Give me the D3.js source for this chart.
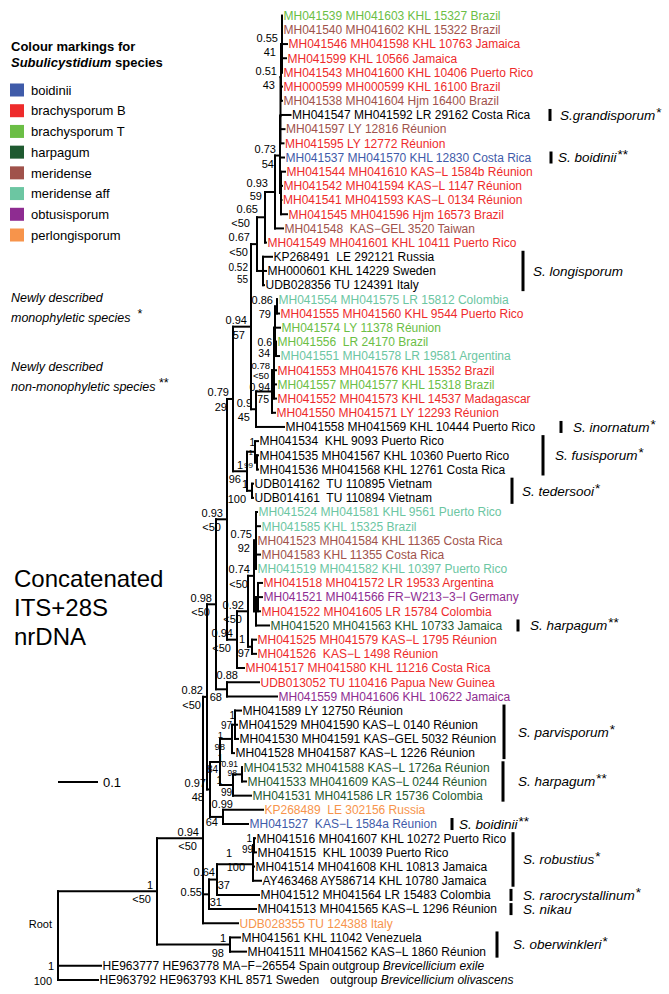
<!DOCTYPE html>
<html><head><meta charset="utf-8">
<script src="https://cdn.jsdelivr.net/npm/d3@7"></script>
<style>
body{margin:0;background:#fff;}
svg text{font-family:"Liberation Sans",Arial,Helvetica,sans-serif;}
</style></head><body>
<svg id="chart" width="669" height="994"></svg>
<script>
// ---------------- DATA ----------------
const leafLabels = [
"MH041539 MH041603 KHL 15327 Brazil","MH041540 MH041602 KHL 15322 Brazil","MH041546 MH041598 KHL 10763 Jamaica",
"MH041599 KHL 10566 Jamaica","MH041543 MH041600 KHL 10406 Puerto Rico","MH000599 MH000599 KHL 16100 Brazil",
"MH041538 MH041604 Hjm 16400 Brazil","MH041547 MH041592 LR 29162 Costa Rica","MH041597 LY 12816 Réunion",
"MH041595 LY 12772 Réunion","MH041537 MH041570 KHL 12830 Costa Rica","MH041544 MH041610 KAS−L 1584b Réunion",
"MH041542 MH041594 KAS−L 1147 Réunion","MH041541 MH041593 KAS−L 0134 Réunion","MH041545 MH041596 Hjm 16573 Brazil",
"MH041548  KAS−GEL 3520 Taiwan","MH041549 MH041601 KHL 10411 Puerto Rico","KP268491  LE 292121 Russia",
"MH000601 KHL 14229 Sweden","UDB028356 TU 124391 Italy","MH041554 MH041575 LR 15812 Colombia",
"MH041555 MH041560 KHL 9544 Puerto Rico","MH041574 LY 11378 Réunion","MH041556  LR 24170 Brazil",
"MH041551 MH041578 LR 19581 Argentina","MH041553 MH041576 KHL 15352 Brazil","MH041557 MH041577 KHL 15318 Brazil",
"MH041552 MH041573 KHL 14537 Madagascar","MH041550 MH041571 LY 12293 Réunion","MH041558 MH041569 KHL 10444 Puerto Rico",
"MH041534  KHL 9093 Puerto Rico","MH041535 MH041567 KHL 10360 Puerto Rico","MH041536 MH041568 KHL 12761 Costa Rica",
"UDB014162  TU 110895 Vietnam","UDB014161  TU 110894 Vietnam","MH041524 MH041581 KHL 9561 Puerto Rico",
"MH041585 KHL 15325 Brazil","MH041523 MH041584 KHL 11365 Costa Rica","MH041583 KHL 11355 Costa Rica",
"MH041519 MH041582 KHL 10397 Puerto Rico","MH041518 MH041572 LR 19533 Argentina","MH041521 MH041566 FR−W213−3−I Germany",
"MH041522 MH041605 LR 15784 Colombia","MH041520 MH041563 KHL 10733 Jamaica","MH041525 MH041579 KAS−L 1795 Réunion",
"MH041526  KAS−L 1498 Réunion","MH041517 MH041580 KHL 11216 Costa Rica","UDB013052 TU 110416 Papua New Guinea",
"MH041559 MH041606 KHL 10622 Jamaica","MH041589 LY 12750 Réunion","MH041529 MH041590 KAS−L 0140 Réunion",
"MH041530 MH041591 KAS−GEL 5032 Réunion","MH041528 MH041587 KAS−L 1226 Réunion","MH041532 MH041588 KAS−L 1726a Réunion",
"MH041533 MH041609 KAS−L 0244 Réunion","MH041531 MH041586 LR 15736 Colombia","KP268489  LE 302156 Russia",
"MH041527  KAS−L 1584a Réunion","MH041516 MH041607 KHL 10272 Puerto Rico","MH041515  KHL 10039 Puerto Rico",
"MH041514 MH041608 KHL 10813 Jamaica","AY463468 AY586714 KHL 10780 Jamaica","MH041512 MH041564 LR 15483 Colombia",
"MH041513 MH041565 KAS−L 1296 Réunion","UDB028355 TU 124388 Italy","MH041561 KHL 11042 Venezuela",
"MH041511 MH041562 KAS−L 1860 Réunion","HE963777 HE963778 MA−F−26554 Spain","HE963792 HE963793 KHL 8571 Sweden"
];
const leafGroups = [
"brachysporum T","meridense","brachysporum B","brachysporum B","brachysporum B","brachysporum B","meridense","","meridense",
"brachysporum B","boidinii","brachysporum B","brachysporum B","brachysporum B","brachysporum B","meridense","brachysporum B",
"","","","meridense aff","brachysporum B","brachysporum T","brachysporum T","meridense aff","brachysporum B","brachysporum T",
"brachysporum B","brachysporum B","","","","","","","meridense aff","meridense aff","meridense","meridense","meridense aff",
"brachysporum B","obtusisporum","brachysporum B","harpagum","brachysporum B","brachysporum B","brachysporum B","brachysporum B",
"obtusisporum","","","","","harpagum","harpagum","harpagum","perlongisporum","boidinii","","","","","","","perlongisporum",
"","","",""
];
const groupNames = ["boidinii","brachysporum B","brachysporum T","harpagum","meridense","meridense aff","obtusisporum","perlongisporum"];
const groupColors = ["#3F5BA9","#EE2B2B","#6BBE45","#1F5A30","#A0524B","#6CC6A2","#8E2C91","#F7944B"];

// Tree: leaves L1..L69, internal labels = posterior/bootstrap, branch lengths in substitutions/site
const treeNewick = `(
 (
  (
   (
    (
     (
      (
       (
        (
         (
          (
           ((((L1:0,L2:0,L3:0.0125,L4:0.01,L5:0)0.55/41:0.0025,L6:0.0025,L7:0.0025)0.51/43:0.00125,L8:0.025,L9:0.01,L10:0.0075):0.00125,
            L11:0.01,
            (L12:0.01,L13:0.0025,L14:0.00125,L15:0.015):0.0025)0.73/54:0.0125,
           L16:0.02)0.93/59:0.025,
          L17:0.0025)0.65/<50:0.02,
         (L18:0.0225,L19:0.0075,L20:0.0025)0.52/55:0.015)0.67/<50:0.015,
        (((((L21:0,L22:0.005)0.86/79:0.005,L23:0.0125,(L24:0,L25:0.0075)0.6/34:0.0025):0.0025,
            L26:0.005,L27:0.005,L28:0.005)0.78/<50:0.005,
           L29:0.0075)0.94/75:0.04,
         L30:0.07)0.9/45:0.0125)0.94/57:0.045,
       ((L31:0.0075,(L32:0.0025,L33:0.0025)1/99:0.005)1/:0.02,
        (L34:0.0025,L35:0.0025)1/100:0.0125)1/96:0.035)0.79/29:0.015,
      ((((L36:0.0025,L37:0.01,L38:0,L39:0.01,L40:0)0.75/92:0.005,
         ((L41:0.01,L42:0.01,L43:0.005):0.005,L44:0.0325):0.005)0.74/<50:0.015,
        (L45:0.01,L46:0.01)1/97:0.01)0.92/<50:0.0275,
       L47:0.0175)0.94/<50:0.025)0.93/<50:0.0275,
     (L48:0.08,L49:0.125)0.88/68:0.0275)0.98/<50:0.0225,
    ((((L50:0.015,L51:0.005,L52:0.0075)1/97:0.0075,L53:0.005)1/98:0.03,
      ((L54:0,L55:0.01)0.91/98:0.0225,L56:0.045)1/99:0.0325)1/84:0.025,
     (L57:0.1,L58:0.0625)0.99/64:0.0325)0.97/48:0.0075)0.82/<50:0.01,
   ((((L59:0.0025,L60:0.005)1/99:0.0025,L61:0.0025,L62:0.02)1/100:0.09,L63:0.105)0.64/37:0.02,L64:0.1175)0.55/31:0.015,
   L65:0.0875)0.94/<50:0.115,
  (L66:0.025,L67:0.04)1/98:0.1825)1/<50:0.2475,
 (L68:0.1075,L69:0.1)1/100:0
);`;

const speciesNames = ["S.grandisporum","S. boidinii","S. longisporum","S. inornatum","S. fusisporum","S. tedersooi",
  "S. harpagum","S. parvisporum","S. harpagum","S. boidinii","S. robustius","S. rarocrystallinum","S. nikau","S. oberwinkleri"];
const speciesMarks = ["*","**","","*","*","*","**","*","**","**","*","*","","*"];
const speciesFirstLeaf = [8,11,18,30,31,34,44,50,54,58,59,63,64,66];
const speciesLastLeaf  = [8,11,20,30,33,35,44,53,56,58,62,63,64,67];
const outgroupGenus = ["Brevicellicium exile","Brevicellicium olivascens"];
const outgroupLeaf = [68,69];
const scaleBarValue = 0.1;

// ---------------- LAYOUT (not data) ----------------
const annotBarX   = [550,551,523,561,543,512,518,504,503,452,513,511,511,497];
const annotLabelX = [560,558,533,573,555,522,530,518,518,459,523,523,523,513];
const outgroupTextX = [332,330];
const supDefault = {fs:11, px:-4, py:-2.5, bx:-6, by:12};
// label placement tweaks for crowded nodes, keyed by first-last leaf number
const supTweak = {
  "32-33":{fs:8, px:-4, py:-7, bx:-4, by:6},
  "31-33":{fs:10, px:0, py:-5.5},
  "50-52":{fs:10, px:0, py:-6, bx:-3, by:4},
  "50-53":{fs:9.5, px:-9, py:-1, bx:-7, by:11},
  "54-55":{fs:8.5, px:-4, py:-7.5, bx:-5, by:2},
  "54-56":{fs:10, px:-11, py:-1.5, bx:-1, by:11},
  "50-56":{fs:10, px:3, py:0.5, bx:-2, by:11},
  "59-60":{fs:10, px:-2, py:-3, bx:-1, by:7.5},
  "59-62":{px:-21, py:-7, bx:-8, by:7},
  "59-63":{px:-2, py:-4, bx:13, by:9},
  "59-64":{px:-7, py:1.5, bx:13, by:11.5},
  "48-49":{px:11, py:-10.5, bx:-5, by:11.5},
  "57-58":{px:10, py:-8.5, bx:-5, by:9.5},
  "45-46":{px:-7, py:-4, bx:-2, by:10},
  "1-20":{px:-7, py:-3.5, bx:-9, by:12},
  "18-20":{fs:10, px:-15, py:0, bx:-15, by:12},
  "1-17":{px:-7, py:-4, bx:-15, by:9.5},
  "1-16":{px:-7, py:-5, bx:-13, by:8.5},
  "24-25":{fs:10.5, px:-4, py:-3, bx:-6, by:8.5},
  "21-28":{fs:9.5, px:-4, py:-1, bx:-5, by:9},
  "21-29":{fs:10.5, px:-2, py:0, bx:-3, by:12}
};

// ---------------- PARSER ----------------
function parseNewick(str){
  const s = str.replace(/\s+/g,"");
  let i = 0;
  function node(){
    const n = {children:[]};
    if (s[i] === "("){
      i++;
      n.children.push(node());
      while (s[i] === ","){ i++; n.children.push(node()); }
      i++;
    }
    let name = "";
    while (i < s.length && !":,();".includes(s[i])) name += s[i++];
    n.name = name;
    n.length = 0;
    if (s[i] === ":"){
      i++; let num = "";
      while (i < s.length && !",();".includes(s[i])) num += s[i++];
      n.length = +num;
    }
    if (!n.children.length) delete n.children;
    return n;
  }
  return node();
}

// ---------------- DRAW ----------------
const svg = d3.select("#chart");
const x = d3.scaleLinear().domain([0, 0.1]).range([58, 98]);
const y = d3.scaleLinear().domain([0, leafLabels.length - 1]).range([15.7, 980]);
const color = d3.scaleOrdinal().domain(groupNames).range(groupColors).unknown("#000");

const root = d3.hierarchy(parseNewick(treeNewick));
root.eachBefore(d => { d.dist = d.parent ? d.parent.dist + d.data.length : 0; });
root.leaves().forEach(d => { d.idx = +d.data.name.slice(1) - 1; d.py = y(d.idx); });
root.eachAfter(d => { if (d.children) d.py = d3.mean(d.children, c => c.py); });
root.each(d => { d.px = x(d.dist); });

const lines = svg.append("g").attr("fill","none").attr("stroke","#000")
  .attr("stroke-width",2).attr("stroke-linecap","square");
lines.selectAll("path.h").data(root.descendants().filter(d => d.parent)).join("path")
  .attr("class","h").attr("d", d => `M${d.parent.px},${d.py}H${d.px}`);
lines.selectAll("path.v").data(root.descendants().filter(d => d.children)).join("path")
  .attr("class","v").attr("d", d => `M${d.px},${d.children[0].py}V${d.children[d.children.length-1].py}`);

// leaf labels
svg.append("g").selectAll("text").data(root.leaves()).join("text")
  .attr("x", d => d.px + 1.5).attr("y", d => d.py).attr("dy","0.36em")
  .attr("font-size", 12).style("white-space","pre")
  .attr("fill", d => color(leafGroups[d.idx]))
  .text(d => leafLabels[d.idx]);

// support labels
const sup = svg.append("g").attr("fill","#000").attr("text-anchor","end");
root.descendants().filter(d => d.children && d.data.name).forEach(d => {
  const lv = d.leaves();
  const key = (lv[0].idx + 1) + "-" + (lv[lv.length-1].idx + 1);
  const o = Object.assign({}, supDefault, supTweak[key] || {});
  const [post, boot] = d.data.name.split("/");
  if (post) sup.append("text").attr("font-size", o.fs).attr("x", d.px + o.px).attr("y", d.py + o.py).text(post);
  if (boot) sup.append("text").attr("font-size", o.fs).attr("x", d.px + o.bx).attr("y", d.py + o.by).text(boot);
});

// Root label
svg.append("text").attr("x", 52).attr("y", 928).attr("text-anchor","end").attr("font-size",11).text("Root");

// species annotations
const ann = svg.append("g");
speciesNames.forEach((name, k) => {
  const y0 = y(speciesFirstLeaf[k]-1) - 6, y1 = y(speciesLastLeaf[k]-1) + 6;
  ann.append("rect").attr("x", annotBarX[k]-1.5).attr("y", y0).attr("width", 3).attr("height", y1 - y0).attr("fill","#000");
  const t = ann.append("text").attr("x", annotLabelX[k]).attr("y", (y0+y1)/2).attr("dy","0.36em")
    .attr("font-size", 13.5).attr("font-style","italic").text(name);
  if (speciesMarks[k]) t.append("tspan").attr("font-style","normal").attr("dy", -3).attr("dx", 1).text(speciesMarks[k]);
});

// outgroup
outgroupGenus.forEach((g, k) => {
  const t = svg.append("text").attr("x", outgroupTextX[k]).attr("y", y(outgroupLeaf[k]-1)).attr("dy","0.36em")
    .attr("font-size", 12).style("white-space","pre").text("outgroup ");
  t.append("tspan").attr("font-style","italic").text(g);
});

// scale bar
const sbY = 782;
svg.append("line").attr("x1", x(0)).attr("x2", x(scaleBarValue)).attr("y1", sbY).attr("y2", sbY)
  .attr("stroke","#000").attr("stroke-width",2);
svg.append("text").attr("x", x(scaleBarValue) + 5).attr("y", sbY).attr("dy","0.36em").attr("font-size",13).text(String(scaleBarValue));

// legend
const lg = svg.append("g");
lg.append("text").attr("x", 11).attr("y", 51).attr("font-size", 13).attr("font-weight","bold").text("Colour markings for");
const t2 = lg.append("text").attr("x", 11).attr("y", 67).attr("font-size", 13).attr("font-weight","bold");
t2.append("tspan").attr("font-style","italic").text("Subulicystidium");
t2.append("tspan").text(" species");
const ly = d3.scaleLinear().domain([0, groupNames.length-1]).range([90, 235]);
groupNames.forEach((gname, k) => {
  lg.append("rect").attr("x", 10).attr("y", ly(k) - 6.5).attr("width", 14).attr("height", 13).attr("fill", groupColors[k]);
  lg.append("text").attr("x", 31).attr("y", ly(k)).attr("dy","0.36em").attr("font-size", 13).text(gname);
});

// newly described notes
const nd = svg.append("g").attr("font-size", 12.5).attr("font-style","italic");
nd.append("text").attr("x", 11).attr("y", 302).text("Newly described");
nd.append("text").attr("x", 11).attr("y", 322).style("white-space","pre").text("monophyletic species  ")
  .append("tspan").attr("font-style","normal").attr("dy",-4).text("*");
nd.append("text").attr("x", 11).attr("y", 371).text("Newly described");
nd.append("text").attr("x", 11).attr("y", 391).style("white-space","pre").text("non-monophyletic species ")
  .append("tspan").attr("font-style","normal").attr("dy",-4).text("**");

// title block
const tb = svg.append("g").attr("font-size", 24);
["Concatenated","ITS+28S","nrDNA"].forEach((s, k) =>
  tb.append("text").attr("x", 14).attr("y", 587 + k*29).text(s));
</script>
</body></html>
